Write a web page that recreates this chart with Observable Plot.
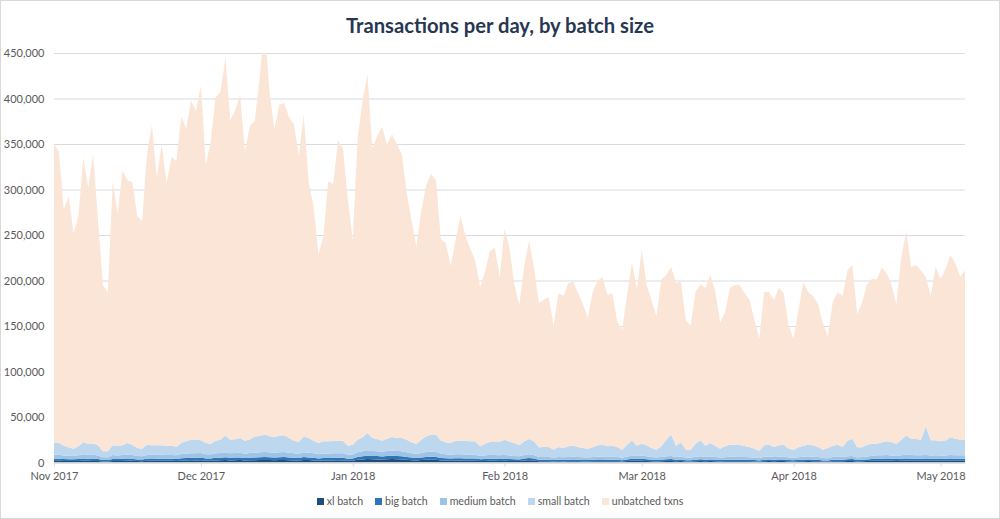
<!DOCTYPE html>
<html><head><meta charset="utf-8">
<script src="https://cdn.jsdelivr.net/npm/d3@7"></script>
<script src="https://cdn.jsdelivr.net/npm/@observablehq/plot@0.6"></script>
<style>
body{margin:0;background:#fff;}
#wrap{position:relative;width:1000px;height:519px;box-sizing:border-box;border:1px solid #D9D9D9;overflow:hidden;font-family:Lato,"Open Sans",sans-serif;background:#fff;}
#title{position:absolute;left:0;right:0;top:11px;text-align:center;font-size:20.2px;line-height:26px;font-weight:700;color:#263752;}
#chart{position:absolute;left:-1px;top:39px;}
#legend{position:absolute;left:0;right:0;top:492px;display:flex;justify-content:center;gap:12px;font-size:10.6px;color:#595959;line-height:16px;}
#legend span.sw{display:inline-block;width:7px;height:7px;margin-right:3px;vertical-align:0px;}
</style></head>
<body><div id="wrap"><div id="title">Transactions per day, by batch size</div><div id="chart"></div><div id="legend"></div></div>
<script>
const startDate = "2017-11-01";
const endDate = "2018-05-06";
const seriesNames = ["xl batch","big batch","medium batch","small batch","unbatched txns"];
const seriesColors = ["#1F4E79","#2E75B6","#9DC3E6","#BDD7EE","#FBE5D6"];
const monthTicks = ["2017-11-01","2017-12-01","2018-01-01","2018-02-01","2018-03-01","2018-04-01","2018-05-01"];
const yTicks = [0,50000,100000,150000,200000,250000,300000,350000,400000,450000];

// daily values, thousands of transactions
const xl = [1.8,1.9,1.7,1.6,1.7,1.8,2.0,1.9,1.8,1.7,
1.2,1.2,1.8,1.7,1.8,2.0,1.9,1.6,1.5,1.9,
2.0,1.9,2.0,1.9,1.9,1.8,2.1,2.3,2.5,2.4,
2.6,2.1,2.0,2.4,2.5,2.8,2.4,2.6,2.7,2.3,
2.5,2.6,2.7,2.9,2.7,2.6,2.8,2.9,2.6,2.4,
2.3,2.9,2.7,2.4,2.1,2.3,2.4,2.4,2.5,2.4,
2.0,2.1,3.0,3.4,3.8,3.6,3.5,3.3,3.6,3.8,
3.6,3.4,3.0,2.6,2.3,2.7,3.0,3.1,3.0,2.4,
2.2,2.0,2.2,2.2,2.1,2.0,2.0,1.6,1.8,1.9,
1.9,1.8,2.0,1.8,1.7,1.6,2.2,2.6,2.2,1.4,
1.4,1.4,1.2,1.4,1.3,1.4,1.5,1.4,1.3,1.2,
1.4,1.5,1.5,1.4,1.5,1.4,1.2,1.6,2.0,1.9,
2.0,1.8,1.5,1.3,1.5,1.7,1.8,1.5,1.6,1.2,
1.2,1.5,1.7,1.5,1.6,1.5,1.3,1.4,1.5,1.5,
1.5,1.4,1.4,1.3,1.1,1.5,1.6,1.5,1.6,1.6,
1.3,1.2,1.4,1.5,1.6,1.5,1.4,1.1,1.0,1.4,
1.5,1.4,1.7,1.8,1.3,1.4,1.6,1.9,2.0,2.0,
2.1,1.9,1.8,2.0,2.2,2.0,2.0,1.9,2.1,1.9,
1.9,1.9,1.9,2.1,2.0,1.9,1.9];
const big = [2.3,2.4,2.1,2.0,2.0,2.2,2.5,2.4,2.3,2.1,
1.6,1.5,2.2,2.1,2.3,2.4,2.2,1.9,1.9,2.3,
2.4,2.3,2.3,2.2,2.3,2.2,2.6,2.7,2.8,2.8,
2.9,2.5,2.5,2.8,2.9,3.0,2.8,2.9,3.0,2.7,
2.9,3.0,3.1,3.2,3.1,3.0,3.1,3.1,3.0,2.8,
2.6,3.1,3.0,2.8,2.5,2.7,2.7,2.8,2.8,2.8,
2.3,2.4,3.2,3.5,3.8,3.6,3.6,3.4,3.7,3.8,
3.6,3.5,3.2,2.9,2.6,3.0,3.2,3.3,3.2,2.7,
2.5,2.4,2.5,2.6,2.5,2.4,2.4,2.0,2.2,2.3,
2.3,2.2,2.4,2.2,2.0,1.9,2.3,2.5,2.3,1.7,
1.7,1.7,1.5,1.7,1.6,1.7,1.8,1.7,1.6,1.5,
1.6,1.8,1.8,1.7,1.7,1.6,1.4,1.8,2.1,2.0,
2.1,1.9,1.7,1.5,1.7,1.9,2.0,1.7,1.8,1.4,
1.4,1.7,1.9,1.7,1.8,1.7,1.5,1.6,1.7,1.7,
1.7,1.6,1.6,1.5,1.3,1.7,1.8,1.7,1.8,1.8,
1.5,1.4,1.6,1.7,1.8,1.7,1.6,1.3,1.2,1.6,
1.7,1.6,1.9,2.0,1.5,1.6,1.8,2.1,2.2,2.2,
2.3,2.2,2.0,2.2,2.4,2.3,2.2,2.2,2.3,2.2,
2.2,2.1,2.2,2.3,2.3,2.2,2.2];
const medium = [4.5,4.4,4.0,3.8,3.6,4.0,4.6,4.3,4.4,4.0,
3.0,3.1,4.2,4.0,4.1,4.3,4.1,3.7,3.5,4.2,
4.4,4.2,4.3,4.1,4.2,4.0,4.6,4.8,5.0,5.1,
5.0,4.6,4.5,5.0,5.1,5.4,5.0,5.1,5.2,4.8,
5.0,5.3,5.4,5.6,5.5,5.3,5.5,5.6,5.2,5.0,
4.8,5.4,5.2,4.9,4.5,4.7,4.8,4.9,4.9,4.9,
4.2,4.3,5.2,5.5,5.8,5.5,5.4,5.2,5.5,5.7,
5.5,5.4,5.1,4.7,4.4,4.9,5.3,5.5,5.4,4.6,
4.3,4.1,4.3,4.4,4.3,4.2,4.1,3.6,3.9,4.0,
4.0,3.9,4.1,3.8,3.6,3.4,3.8,4.0,3.7,3.0,
3.1,3.0,2.7,3.0,2.9,3.1,3.1,3.0,2.9,2.8,
3.0,3.2,3.3,3.1,3.1,3.0,2.7,3.2,3.5,3.3,
3.4,3.2,3.0,2.7,3.0,3.3,3.5,3.0,3.2,2.6,
2.6,3.1,3.3,3.0,3.1,3.0,2.7,2.9,3.1,3.1,
3.0,3.0,2.9,2.7,2.5,3.1,3.2,3.0,3.1,3.2,
2.7,2.6,2.9,3.1,3.2,3.1,3.0,2.6,2.5,3.0,
3.1,3.0,3.3,3.4,2.9,3.0,3.2,3.6,3.7,3.7,
3.8,3.7,3.5,3.8,4.0,3.9,3.8,3.8,3.9,3.7,
3.8,3.7,3.7,3.9,3.8,3.8,3.8];
const small = [13.4,12.8,10.8,9.4,8.0,10.0,13.5,11.9,12.5,11.2,
6.6,6.6,10.8,10.8,10.8,12.8,11.5,8.8,8.4,11.3,
10.2,10.6,10.4,10.4,10.2,9.5,12.2,13.9,14.9,14.9,
14.0,12.3,11.8,13.8,14.7,18.4,15.0,15.0,16.1,14.2,
15.2,17.6,18.0,19.0,17.9,16.9,18.2,18.4,16.2,13.8,
12.9,17.5,16.1,13.9,12.4,13.7,13.5,13.6,13.8,13.9,
10.1,10.9,13.8,15.4,19.1,14.3,13.5,12.1,13.5,14.8,
14.3,14.7,13.9,12.1,11.2,14.6,17.4,18.8,19.1,14.3,
13.3,13.0,15.0,14.8,14.8,14.8,14.9,10.7,12.9,14.4,
14.4,14.7,16.7,15.2,14.2,12.1,15.1,16.9,15.2,10.7,
11.0,11.1,8.8,11.1,10.2,11.7,12.2,11.1,10.2,9.8,
10.8,12.5,13.1,11.7,12.3,11.2,8.9,13.1,16.9,11.4,
13.3,12.1,9.8,8.7,11.7,18.3,23.4,12.4,15.7,9.0,
9.0,14.5,17.6,12.4,15.0,12.4,9.8,12.0,13.4,13.4,
13.0,12.2,11.3,9.8,8.2,12.7,13.1,11.0,12.5,13.1,
9.8,9.0,10.9,12.3,13.1,12.7,11.2,9.2,11.3,12.6,
13.4,11.2,17.1,19.1,11.1,10.8,13.1,13.2,12.9,14.4,
15.2,14.5,13.5,17.2,21.0,18.1,17.9,17.3,31.5,16.7,
16.6,15.7,16.2,19.5,18.2,17.3,17.3];
const unbatched = [328.0,320.5,259.4,276.2,236.7,253.0,312.4,281.5,318.0,246.0,
182.6,174.6,290.0,255.4,302.0,288.5,288.3,255.0,249.7,319.3,
352.0,294.0,331.0,288.4,317.4,313.5,358.5,343.3,372.8,360.8,
389.5,305.5,332.2,377.0,381.8,415.4,350.8,361.4,377.0,318.0,
344.4,346.5,394.8,448.3,378.8,338.2,363.4,365.0,352.0,348.0,
314.4,353.1,281.0,258.0,207.5,224.6,285.6,282.3,330.0,321.0,
270.4,224.3,331.8,369.2,394.5,318.0,333.0,345.0,322.7,332.9,
323.0,312.0,271.8,243.7,216.5,251.8,276.1,286.3,279.3,221.0,
218.7,194.5,221.0,247.0,225.3,211.6,198.6,175.1,189.2,209.4,
213.4,181.4,231.8,213.0,173.5,154.0,192.6,218.0,190.6,158.2,
161.8,164.8,136.8,168.8,167.0,179.1,180.4,168.8,158.0,143.7,
171.2,181.0,184.3,166.1,167.4,137.8,131.8,164.3,195.5,171.4,
213.2,176.0,162.0,146.8,183.1,180.8,184.3,178.4,176.7,141.8,
136.8,167.2,171.5,173.4,184.5,169.4,138.7,147.1,172.3,175.3,
175.8,167.8,161.8,141.7,122.9,169.0,167.3,160.8,173.0,166.3,
134.7,121.8,151.2,179.4,167.3,164.0,156.8,138.8,123.0,158.4,
167.3,165.8,187.0,190.7,146.2,159.2,176.3,181.2,180.2,191.7,
184.6,172.7,153.2,200.8,224.4,188.7,191.1,185.8,164.2,158.5,
190.5,178.6,188.0,200.2,192.7,178.8,185.8];

const seriesValues = [xl, big, medium, small, unbatched];
const start = new Date(startDate + "T00:00:00Z");
const table = [];
seriesValues.forEach((vals, s) => {
  vals.forEach((v, i) => {
    table.push({date: d3.utcDay.offset(start, i), series: seriesNames[s], value: v * 1000});
  });
});

const chart = Plot.plot({
  width: 1000,
  height: 455,
  marginTop: 13,
  marginBottom: 32,
  marginLeft: 54,
  marginRight: 34,
  style: {fontFamily: "Lato, 'Open Sans', sans-serif", fontSize: "11px", color: "#595959", background: "#fff"},
  x: {type: "utc", domain: [start, new Date(endDate + "T00:00:00Z")], label: null},
  y: {domain: [0, 450000], label: null},
  color: {domain: seriesNames, range: seriesColors},
  marks: [
    Plot.gridY(yTicks, {stroke: "#D9DBE3", strokeOpacity: 1, strokeWidth: 1}),
    Plot.areaY(table, {x: "date", y: "value", fill: "series", order: seriesNames, clip: true}),
    Plot.ruleY([0], {stroke: "#D9D9D9", strokeWidth: 1}),
    Plot.axisY({ticks: yTicks, tickFormat: d3.format(","), tickSize: 0, tickPadding: 10, fill: "#595959", label: null}),
    Plot.axisX({ticks: monthTicks.map(d => new Date(d + "T00:00:00Z")), tickFormat: d3.utcFormat("%b %Y"), tickSize: 4, tickPadding: 5, stroke: "#D9D9D9", strokeOpacity: 1, fill: "#595959", label: null})
  ]
});
document.getElementById("chart").appendChild(chart);

const legend = document.getElementById("legend");
seriesNames.forEach((name, i) => {
  const item = document.createElement("div");
  item.innerHTML = `<span class="sw" style="background:${seriesColors[i]}"></span>${name}`;
  legend.appendChild(item);
});
</script></body></html>
